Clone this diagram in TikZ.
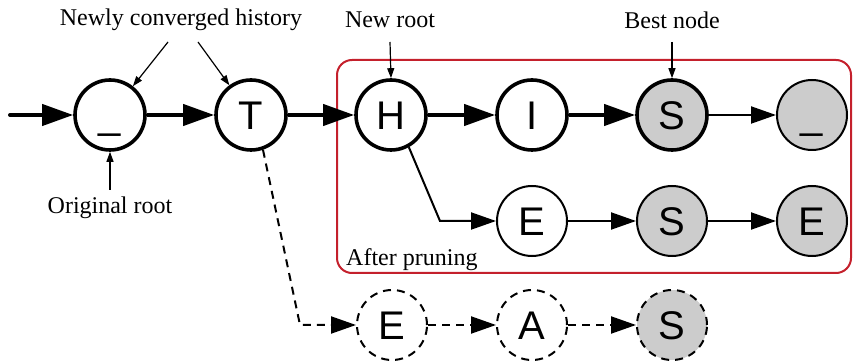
\documentclass[tikz,border=0pt]{standalone}
\usepackage{fontspec}
\setmainfont{Liberation Serif}
\newfontfamily\letterfont{Liberation Sans}
\usetikzlibrary{arrows.meta}
\definecolor{boxred}{RGB}{196,32,44}
\definecolor{leafgray}{RGB}{204,204,204}
\tikzset{
  state/.style={circle, draw, minimum size=70pt, inner sep=0pt,
    font=\letterfont\fontsize{40}{40}\selectfont, text height=29pt, text depth=0pt},
  boldstate/.style={state, line width=3.6pt},
  thinstate/.style={state, line width=2pt},
  ghost/.style={state, line width=2pt, dash pattern=on 8pt off 6pt},
  grayfill/.style={fill=leafgray},
  boldedge/.style={line width=4pt, -{Triangle[length=31pt,width=21pt]}},
  thinedge/.style={line width=2pt, -{Triangle[length=25pt,width=17pt]}},
  ghostedge/.style={line width=2pt, dash pattern=on 8pt off 6pt, -{Triangle[length=25pt,width=17pt,sep=0pt]}},
  pointer/.style={line width=1.2pt, -{Triangle[length=10pt,width=7pt]}},
  caption/.style={font=\fontsize{24}{24}\selectfont, inner sep=0pt}
}
\begin{document}
\begin{tikzpicture}[x=1pt,y=-1pt]
  \useasboundingbox (0,0) rectangle (854,363);

  % pruned subtree frame
  \draw[boxred, line width=2pt, rounded corners=15pt] (337,60) rectangle (851,273);
  \node[caption, anchor=base west] (pruned) at (346,266) {After pruning};

  % main path
  \node[boldstate] (r0) at (110,115) {\raisebox{1pt}{\_}};
  \node[boldstate] (t)  at (251,115) {T};
  \node[boldstate] (h)  at (391,115) {H};
  \node[boldstate] (i)  at (532,115) {I};
  \node[boldstate, grayfill] (s1) at (672,115) {S};
  \node[thinstate, grayfill] (u1) at (812,115) {\raisebox{1pt}{\_}};

  % second branch under H
  \node[thinstate] (e2) at (532,221) {E};
  \node[thinstate, grayfill] (s2) at (672,221) {S};
  \node[thinstate, grayfill] (e4) at (812,221) {E};

  % discarded branch under T
  \node[ghost] (e3) at (392,325) {E};
  \node[ghost] (a3) at (532,325) {A};
  \node[ghost, grayfill] (s3) at (672,325) {S};

  % labels
  \node[caption] (lnew)  at (181,20) {Newly converged history};
  \node[caption] (lroot) at (390,20) {New root};
  \node[caption] (lbest) at (672,20) {Best node};
  \node[caption] (lorig) at (110,208) {Original root};

  \coordinate (start) at (10,115);
  \coordinate (hbend) at (440,221);
  \coordinate (tbend) at (300,325);
  \coordinate (pnew1) at (168,42);
  \coordinate (pnew2) at (198,42);

  % edges
  \draw[boldedge, line cap=round] (start) -- (r0);
  \draw[boldedge] (r0) -- (t);
  \draw[boldedge] (t) -- (h);
  \draw[boldedge] (h) -- (i);
  \draw[boldedge] (i) -- (s1);
  \draw[thinedge] (s1) -- (u1);
  \draw[thinedge] (h.-61) -- (hbend) -- (e2);
  \draw[thinedge] (e2) -- (s2);
  \draw[thinedge] (s2) -- (e4);
  \draw[ghostedge] (t.-71) -- (tbend) -- (e3);
  \draw[ghostedge] (e3) -- (a3);
  \draw[ghostedge] (a3) -- (s3);

  % label pointers
  \draw[pointer] (pnew1) -- (r0);
  \draw[pointer] (pnew2) -- (t);
  \draw[pointer] (lroot.south |- 0,42) -- (h.north);
  \draw[pointer] (lbest.south |- 0,42) -- (s1.north);
  \draw[pointer] (lorig.north |- 0,190) -- (r0.south);
\end{tikzpicture}
\end{document}
